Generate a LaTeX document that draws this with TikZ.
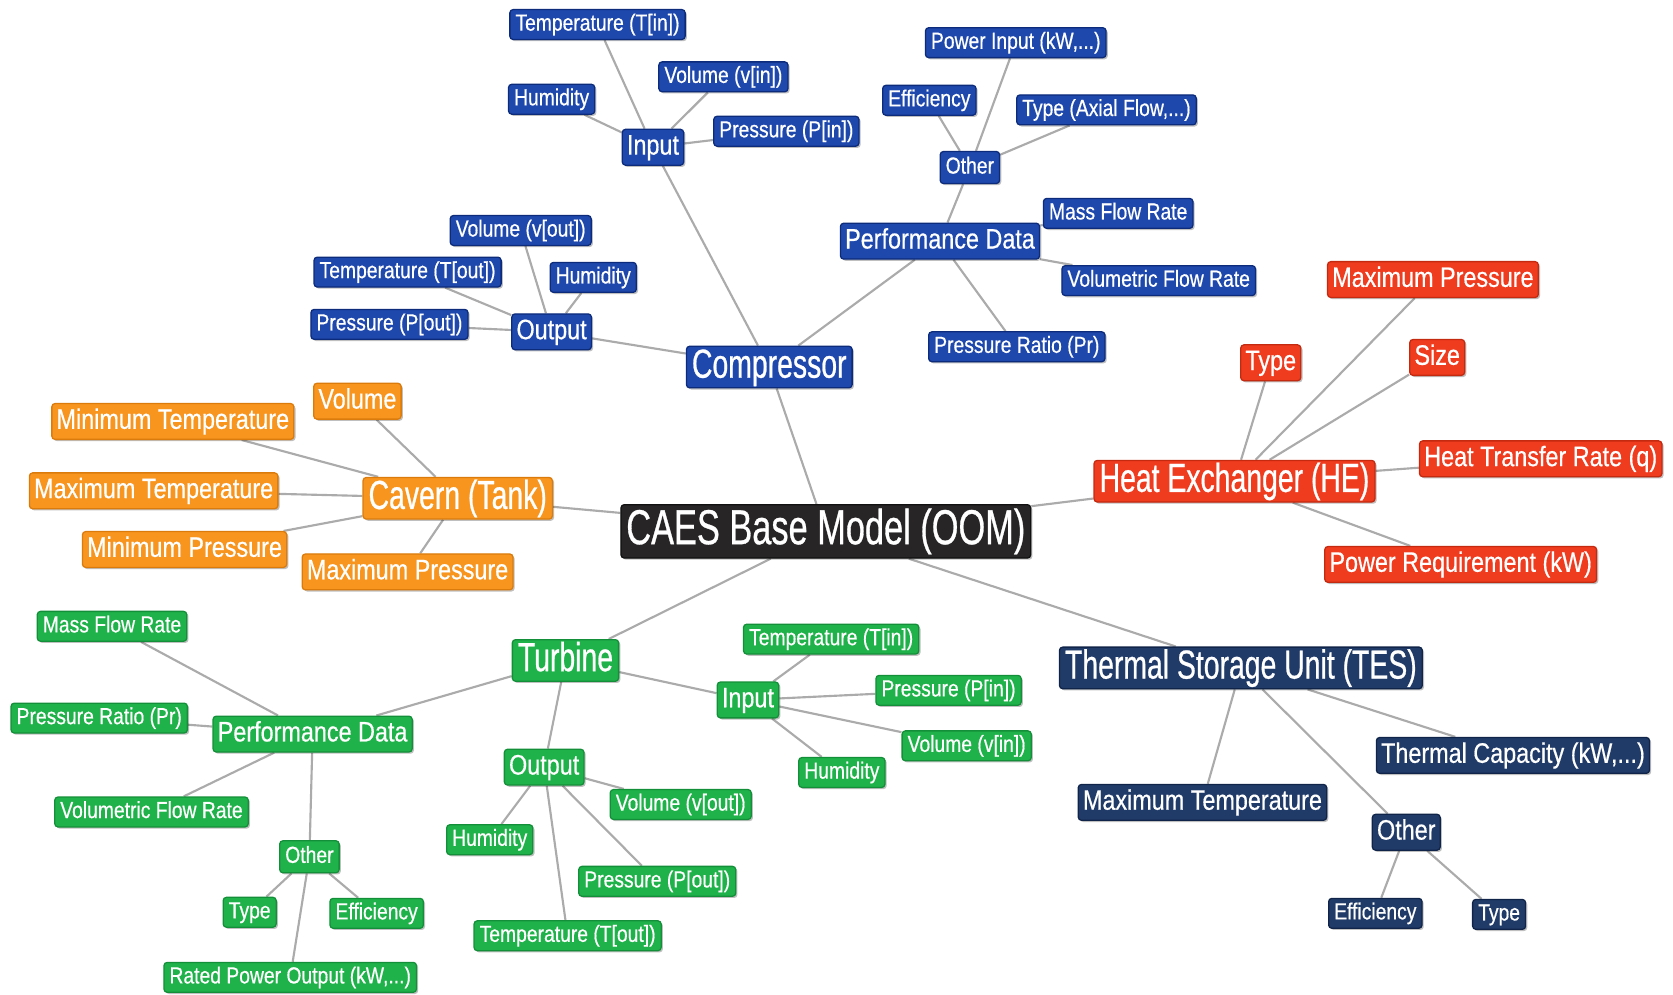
\documentclass[tikz,border=0pt]{standalone}
\usepackage{fontspec}
\usetikzlibrary{shadows,backgrounds}
\newfontfamily\fA{Liberation Sans}[FakeStretch=0.70, FakeBold=0.6]
\newfontfamily\fB{Liberation Sans}[FakeStretch=0.83, FakeBold=0.5]

\definecolor{rootf}{HTML}{272525}
\definecolor{rootb}{HTML}{111111}
\definecolor{bluef}{HTML}{1F48AD}
\definecolor{blueb}{HTML}{0C2B7A}
\definecolor{redf}{HTML}{EF3B1E}
\definecolor{redb}{HTML}{C42A10}
\definecolor{orgf}{HTML}{F7951F}
\definecolor{orgb}{HTML}{DA7B0C}
\definecolor{grnf}{HTML}{1FB24A}
\definecolor{grnb}{HTML}{148F39}
\definecolor{navf}{HTML}{213B69}
\definecolor{navb}{HTML}{0F2448}
\definecolor{linec}{HTML}{ABABAB}

\tikzset{
  box/.style={rounded corners=1.5pt, text=white, line width=0.6pt, inner ysep=0pt,
    drop shadow={shadow xshift=0.8pt, shadow yshift=-0.8pt, opacity=0.25, fill=black}},
  root/.style={box, fill=rootf, draw=rootb, font=\fA\fontsize{23}{26}\selectfont,
    inner xsep=2.5pt, minimum height=25pt, text height=17pt, text depth=5pt},
  big/.style={box, font=\fA\fontsize{19}{22}\selectfont,
    inner xsep=2.6pt, minimum height=19.5pt, text height=14pt, text depth=4pt},
  mid/.style={box, font=\fB\fontsize{13.2}{15}\selectfont,
    inner xsep=2.2pt, minimum height=16.8pt, text height=9.7pt, text depth=2.8pt},
  leaf/.style={box, font=\fB\fontsize{10.9}{12}\selectfont,
    inner xsep=2.6pt, minimum height=14pt, text height=8pt, text depth=2.3pt},
  blue/.style={fill=bluef, draw=blueb},
  red/.style={fill=redf, draw=redb},
  org/.style={fill=orgf, draw=orgb},
  grn/.style={fill=grnf, draw=grnb},
  nav/.style={fill=navf, draw=navb},
  link/.style={draw=linec, line width=1pt}
}

\begin{document}
\begin{tikzpicture}[x=0.5pt, y=-0.5pt]
\useasboundingbox (0,0) rectangle (1568,932);

% central model
\node[root] (root) at (774,498) {CAES Base Model (OOM)};

% compressor branch
\node[big,blue]  (cmp)   at (721,344) {Compressor};
\node[mid,blue]  (cin)   at (612,138) {Input};
\node[leaf,blue] (cinT)  at (560,23)  {Temperature (T[in])};
\node[leaf,blue] (cinV)  at (678,72)  {Volume (v[in])};
\node[leaf,blue] (cinH)  at (517,93)  {Humidity};
\node[leaf,blue] (cinP)  at (737,123) {Pressure (P[in])};
\node[mid,blue]  (cout)  at (517,311) {Output};
\node[leaf,blue] (coutV) at (488,216) {Volume (v[out])};
\node[leaf,blue] (coutT) at (382,255) {Temperature (T[out])};
\node[leaf,blue] (coutH) at (556,260) {Humidity};
\node[leaf,blue] (coutP) at (365,304) {Pressure (P[out])};
\node[mid,blue]  (cpd)   at (881,226) {Performance Data};
\node[leaf,blue,minimum height=15pt] (coth) at (909,157) {Other};
\node[leaf,blue] (cpow)  at (952,40)  {Power Input (kW,...)};
\node[leaf,blue] (ceff)  at (871,94)  {Efficiency};
\node[leaf,blue] (ctype) at (1037,103) {Type (Axial Flow,...)};
\node[leaf,blue] (cmfr)  at (1048,200) {Mass Flow Rate};
\node[leaf,blue] (cvfr)  at (1086,263) {Volumetric Flow Rate};
\node[leaf,blue] (cpr)   at (953,325) {Pressure Ratio (Pr)};

% heat exchanger branch
\node[big,red] (he)    at (1157,451) {Heat Exchanger (HE)};
\node[mid,red] (hemp)  at (1343,262) {Maximum Pressure};
\node[mid,red] (hety)  at (1191,340) {Type};
\node[mid,red] (hesz)  at (1347,335) {Size};
\node[mid,red] (hehtr) at (1444,430) {Heat Transfer Rate (q)};
\node[mid,red] (hepr)  at (1369,529) {Power Requirement (kW)};

% cavern branch
\node[big,org] (cav)     at (429,467) {Cavern (Tank)};
\node[mid,org] (cavv)    at (335,376) {Volume};
\node[mid,org] (cavmint) at (162,395) {Minimum Temperature};
\node[mid,org] (cavmaxt) at (144,460) {Maximum Temperature};
\node[mid,org] (cavminp) at (173,515) {Minimum Pressure};
\node[mid,org] (cavmaxp) at (382,536) {Maximum Pressure};

% turbine branch
\node[big,grn]  (tur)   at (530,619) {Turbine};
\node[mid,grn]  (tpd)   at (293,688) {Performance Data};
\node[leaf,grn] (tmfr)  at (105,587) {Mass Flow Rate};
\node[leaf,grn] (tpr)   at (93,673)  {Pressure Ratio (Pr)};
\node[leaf,grn] (tvfr)  at (142,761) {Volumetric Flow Rate};
\node[leaf,grn,minimum height=15pt] (toth) at (290,803) {Other};
\node[leaf,grn] (ttype) at (234,855) {Type};
\node[leaf,grn] (teff)  at (353,856) {Efficiency};
\node[leaf,grn] (trpo)  at (272,916) {Rated Power Output (kW,...)};
\node[mid,grn]  (tout)  at (510,719) {Output};
\node[leaf,grn] (touth) at (459,787) {Humidity};
\node[leaf,grn] (toutv) at (638,754) {Volume (v[out])};
\node[leaf,grn] (toutp) at (616,826) {Pressure (P[out])};
\node[leaf,grn] (toutt) at (532,877) {Temperature (T[out])};
\node[mid,grn]  (tin)   at (701,656) {Input};
\node[leaf,grn] (tint)  at (779,599) {Temperature (T[in])};
\node[leaf,grn] (tinp)  at (889,647) {Pressure (P[in])};
\node[leaf,grn] (tinv)  at (906,699) {Volume (v[in])};
\node[leaf,grn] (tinh)  at (789,724) {Humidity};

% thermal storage branch
\node[big,nav]  (tes)     at (1163,626) {Thermal Storage Unit (TES)};
\node[mid,nav]  (tesmt)   at (1127,752) {Maximum Temperature};
\node[mid,nav]  (tescap)  at (1418,708) {Thermal Capacity (kW,...)};
\node[mid,nav]  (tesoth)  at (1318,780) {Other};
\node[leaf,nav] (teseff)  at (1289,856) {Efficiency};
\node[leaf,nav] (testype) at (1405,857) {Type};

% connectors
\begin{scope}[on background layer]
  \foreach \a/\b in {root/cmp, root/he, root/cav, root/tur, root/tes,
      cmp/cin, cmp/cout, cmp/cpd,
      cin/cinT, cin/cinV, cin/cinH, cin/cinP,
      cout/coutV, cout/coutT, cout/coutH, cout/coutP,
      cpd/coth, cpd/cmfr, cpd/cvfr, cpd/cpr,
      coth/cpow, coth/ceff, coth/ctype,
      he/hemp, he/hety, he/hesz, he/hehtr, he/hepr,
      cav/cavv, cav/cavmint, cav/cavmaxt, cav/cavminp, cav/cavmaxp,
      tur/tpd, tur/tout, tur/tin,
      tpd/tmfr, tpd/tpr, tpd/tvfr, tpd/toth,
      toth/ttype, toth/teff, toth/trpo,
      tout/touth, tout/toutv, tout/toutp, tout/toutt,
      tin/tint, tin/tinp, tin/tinv, tin/tinh,
      tes/tesmt, tes/tescap, tes/tesoth,
      tesoth/teseff, tesoth/testype}
    \draw[link] (\a) -- (\b);
\end{scope}
\end{tikzpicture}
\end{document}
